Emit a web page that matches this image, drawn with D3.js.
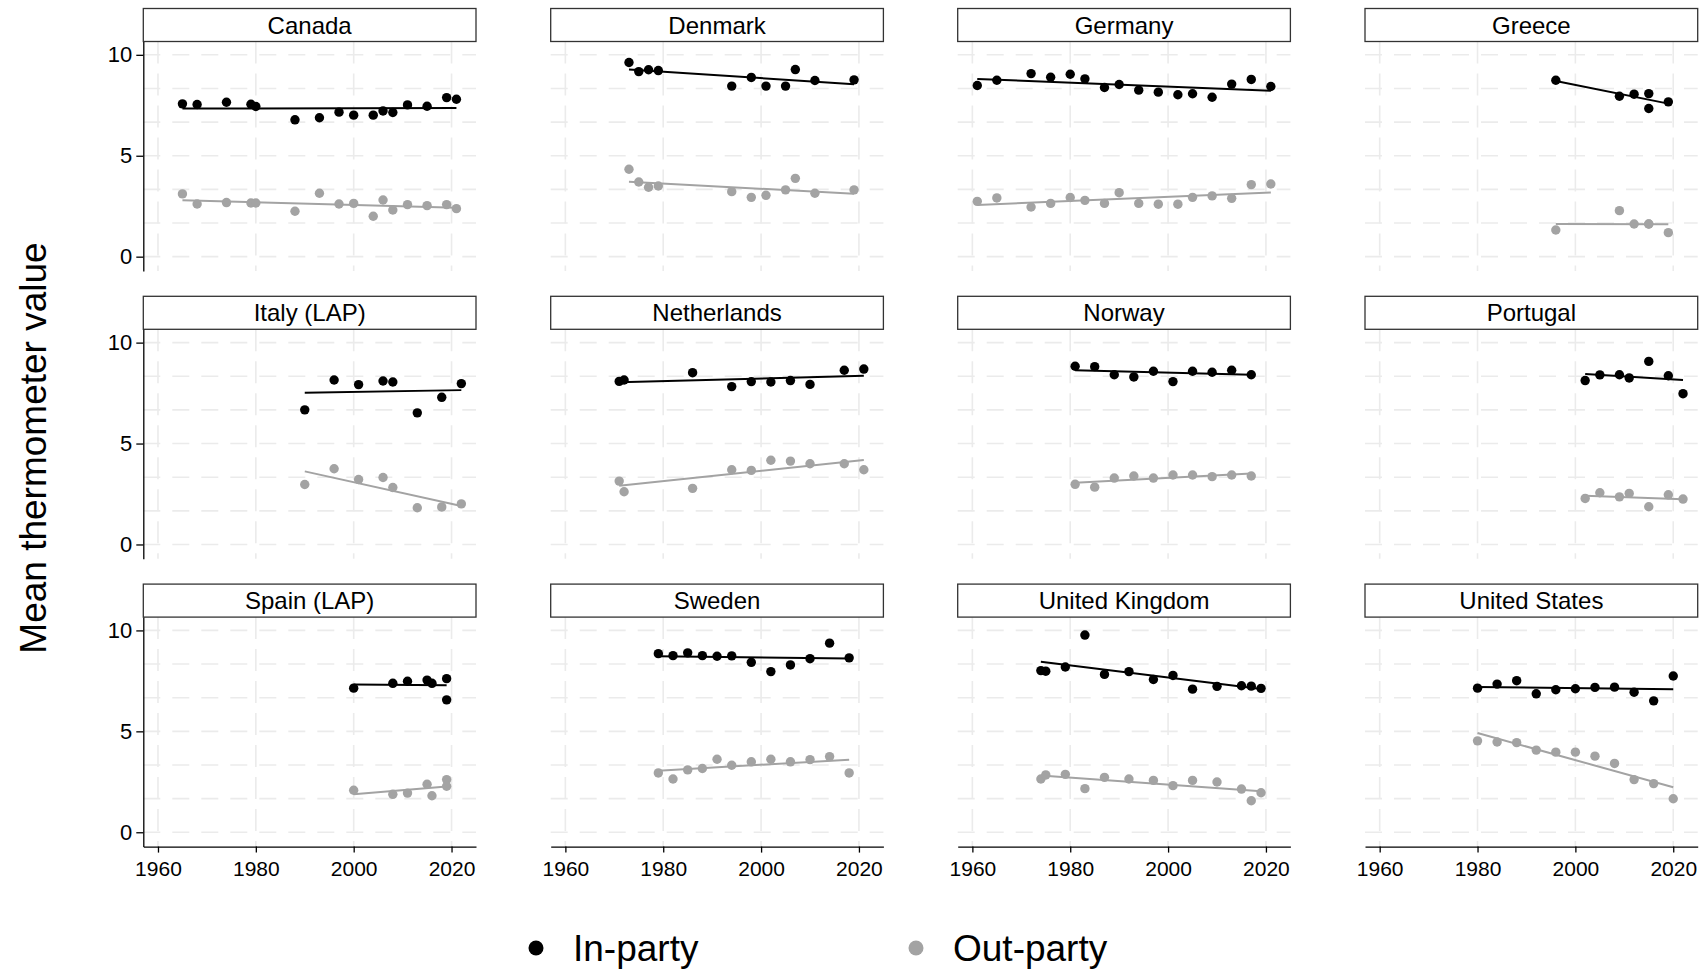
<!DOCTYPE html>
<html>
<head>
<meta charset="utf-8">
<script src="https://cdn.jsdelivr.net/npm/d3@7"></script>
<style>
  body { margin: 0; background: #fff; }
  svg { display: block; }
  text { font-family: "Liberation Sans", Arial, Helvetica, sans-serif; fill: #000; }
</style>
</head>
<body>
<svg id="chart" width="1706" height="970"></svg>
<script>
// Mean feeling-thermometer scores for the in-party and out-party, by election year
const countries = ["Canada", "Denmark", "Germany", "Greece",
                   "Italy (LAP)", "Netherlands", "Norway", "Portugal",
                   "Spain (LAP)", "Sweden", "United Kingdom", "United States"];

const canadaYears = [1965, 1968, 1974, 1979, 1980, 1988, 1993, 1997, 2000, 2004, 2006, 2008, 2011, 2015, 2019, 2021];
const canadaIn    = [7.57, 7.54, 7.65, 7.55, 7.44, 6.78, 6.88, 7.16, 7.01, 7.01, 7.22, 7.14, 7.52, 7.45, 7.88, 7.80];
const canadaOut   = [3.11, 2.61, 2.68, 2.66, 2.66, 2.25, 3.14, 2.61, 2.64, 2.00, 2.81, 2.31, 2.58, 2.53, 2.58, 2.38];

const denmarkYears = [1973, 1975, 1977, 1979, 1994, 1998, 2001, 2005, 2007, 2011, 2019];
const denmarkIn    = [9.62, 9.17, 9.26, 9.22, 8.45, 8.88, 8.45, 8.45, 9.27, 8.73, 8.76];
const denmarkOut   = [4.33, 3.70, 3.44, 3.50, 3.22, 2.94, 3.04, 3.31, 3.88, 3.14, 3.31];

const germanyYears = [1961, 1965, 1972, 1976, 1980, 1983, 1987, 1990, 1994, 1998, 2002, 2005, 2009, 2013, 2017, 2021];
const germanyIn    = [8.48, 8.74, 9.07, 8.89, 9.04, 8.81, 8.38, 8.53, 8.25, 8.15, 8.02, 8.07, 7.90, 8.55, 8.78, 8.43];
const germanyOut   = [2.74, 2.91, 2.46, 2.64, 2.93, 2.79, 2.64, 3.17, 2.64, 2.60, 2.60, 2.94, 3.01, 2.89, 3.57, 3.60];

const greeceYears = [1996, 2009, 2012, 2015, 2015, 2019];
const greeceIn    = [8.74, 7.95, 8.05, 8.08, 7.34, 7.67];
const greeceOut   = [1.32, 2.28, 1.62, 1.62, 1.62, 1.19];

const italyYears = [1990, 1996, 2001, 2006, 2008, 2013, 2018, 2022];
const italyIn    = [6.67, 8.15, 7.92, 8.10, 8.05, 6.52, 7.29, 7.97];
const italyOut   = [2.97, 3.75, 3.22, 3.32, 2.82, 1.82, 1.86, 2.01];

const netherlandsYears = [1971, 1972, 1986, 1994, 1998, 2002, 2006, 2010, 2017, 2021];
const netherlandsIn    = [8.08, 8.15, 8.51, 7.82, 8.07, 8.05, 8.12, 7.93, 8.63, 8.69];
const netherlandsOut   = [3.14, 2.61, 2.78, 3.70, 3.67, 4.17, 4.13, 4.00, 4.00, 3.70];

const norwayYears = [1981, 1985, 1989, 1993, 1997, 2001, 2005, 2009, 2013, 2017];
const norwayIn    = [8.83, 8.81, 8.41, 8.30, 8.58, 8.07, 8.58, 8.53, 8.63, 8.41];
const norwayOut   = [2.98, 2.84, 3.29, 3.39, 3.29, 3.44, 3.44, 3.36, 3.44, 3.39];

const portugalYears = [2002, 2005, 2009, 2011, 2015, 2019, 2022];
const portugalIn    = [8.12, 8.40, 8.41, 8.25, 9.07, 8.36, 7.47];
const portugalOut   = [2.28, 2.56, 2.36, 2.53, 1.87, 2.46, 2.25];

const spainYears = [2000, 2008, 2011, 2015, 2016, 2019, 2019];
const spainIn    = [7.14, 7.38, 7.48, 7.54, 7.38, 7.61, 6.56];
const spainOut   = [2.08, 1.88, 1.94, 2.38, 1.81, 2.61, 2.28];

const swedenYears = [1979, 1982, 1985, 1988, 1991, 1994, 1998, 2002, 2006, 2010, 2014, 2018];
const swedenIn    = [8.85, 8.75, 8.89, 8.75, 8.72, 8.74, 8.42, 7.96, 8.29, 8.60, 9.37, 8.64];
const swedenOut   = [2.94, 2.64, 3.09, 3.16, 3.62, 3.32, 3.49, 3.62, 3.49, 3.60, 3.75, 2.94];

const ukYears = [1974, 1975, 1979, 1983, 1987, 1992, 1997, 2001, 2005, 2010, 2015, 2017, 2019];
const ukIn    = [8.01, 7.98, 8.19, 9.77, 7.82, 7.96, 7.57, 7.77, 7.09, 7.23, 7.26, 7.24, 7.13];
const ukOut   = [2.64, 2.84, 2.87, 2.16, 2.72, 2.64, 2.57, 2.31, 2.57, 2.49, 2.14, 1.56, 1.96];

const usYears = [1980, 1984, 1988, 1992, 1996, 2000, 2004, 2008, 2012, 2016, 2020];
const usIn    = [7.14, 7.34, 7.51, 6.86, 7.06, 7.11, 7.18, 7.19, 6.94, 6.51, 7.74];
const usOut   = [4.53, 4.47, 4.44, 4.07, 3.97, 3.97, 3.77, 3.41, 2.61, 2.41, 1.66];

const xTickValues = [1960, 1980, 2000, 2020];
const yTickValues = [0, 5, 10];
const seriesNames = ["In-party", "Out-party"];

const panels = [
  [canadaYears, canadaIn, canadaOut],
  [denmarkYears, denmarkIn, denmarkOut],
  [germanyYears, germanyIn, germanyOut],
  [greeceYears, greeceIn, greeceOut],
  [italyYears, italyIn, italyOut],
  [netherlandsYears, netherlandsIn, netherlandsOut],
  [norwayYears, norwayIn, norwayOut],
  [portugalYears, portugalIn, portugalOut],
  [spainYears, spainIn, spainOut],
  [swedenYears, swedenIn, swedenOut],
  [ukYears, ukIn, ukOut],
  [usYears, usIn, usOut]
].map((d, i) => ({ name: countries[i], years: d[0], series: [d[1], d[2]] }));

// ---- layout ----
const colLeft = [143.3, 550.7, 957.7, 1365];
const panelW = 332.7;
const rowTop = [8.5, 296.3, 584.1];
const stripH = 33;
const plotH = 229.5;
const colors = ["#000000", "#a3a3a3"];
const gridColor = "#ebebeb";
const gridLevels = d3.range(0, 7).map(k => k * 10 / 6);

const svg = d3.select("#chart");

// ordinary least squares line over a panel's points
function olsFit(xs, ys) {
  const mx = d3.mean(xs), my = d3.mean(ys);
  let sxy = 0, sxx = 0;
  xs.forEach((xv, i) => { sxy += (xv - mx) * (ys[i] - my); sxx += (xv - mx) ** 2; });
  const b = sxy / sxx, a = my - b * mx;
  const [x0, x1] = d3.extent(xs);
  return [[x0, a + b * x0], [x1, a + b * x1]];
}

panels.forEach((p, i) => {
  const c = i % 4, r = Math.floor(i / 4);
  const left = colLeft[c], right = left + panelW;
  const top = rowTop[r] + stripH, bottom = top + plotH;

  const x = d3.scaleLinear().domain([1957, 2025]).range([left, right]);
  const y = d3.scaleLinear().domain([-0.71, 10.66]).range([bottom, top]);

  const g = svg.append("g").attr("class", "panel");

  // dashed grid
  g.selectAll("line.hgrid").data(gridLevels).join("line")
    .attr("class", "hgrid")
    .attr("x1", left).attr("x2", right)
    .attr("y1", d => y(d)).attr("y2", d => y(d))
    .attr("stroke", gridColor).attr("stroke-width", 1.6)
    .attr("stroke-dasharray", "17,12");
  g.selectAll("line.vgrid").data(xTickValues).join("line")
    .attr("class", "vgrid")
    .attr("x1", d => x(d)).attr("x2", d => x(d))
    .attr("y1", top).attr("y2", bottom)
    .attr("stroke", gridColor).attr("stroke-width", 1.6)
    .attr("stroke-dasharray", "22,10");

  // fitted trend per series
  const line = d3.line().x(d => x(d[0])).y(d => y(d[1]));
  p.series.forEach((vals, s) => {
    g.append("path")
      .attr("d", line(olsFit(p.years, vals)))
      .attr("fill", "none")
      .attr("stroke", colors[s])
      .attr("stroke-width", 2);
  });

  // points
  p.series.forEach((vals, s) => {
    g.selectAll(null).data(vals).join("circle")
      .attr("cx", (d, k) => x(p.years[k]))
      .attr("cy", d => y(d))
      .attr("r", 4.7)
      .attr("fill", colors[s]);
  });

  // facet strip
  g.append("rect")
    .attr("x", left).attr("y", rowTop[r])
    .attr("width", panelW).attr("height", stripH)
    .attr("fill", "#fff").attr("stroke", "#333").attr("stroke-width", 1.3);
  g.append("text")
    .attr("x", (left + right) / 2).attr("y", rowTop[r] + stripH / 2 + 8.5)
    .attr("text-anchor", "middle")
    .style("font-size", "24px")
    .text(p.name);

  // axes on the outer panels
  if (c === 0) {
    const ay = g.append("g").attr("transform", `translate(${left},0)`)
      .call(d3.axisLeft(y).tickValues(yTickValues).tickSize(7).tickSizeOuter(0).tickPadding(4));
    ay.select(".domain").attr("stroke", "#000").attr("stroke-width", 1.3);
    ay.selectAll(".tick line").attr("stroke", "#000").attr("stroke-width", 1.3);
    ay.selectAll(".tick text").style("font-size", "22px").attr("font-family", null);
  }
  if (r === 2) {
    const ax = g.append("g").attr("transform", `translate(0,${bottom})`)
      .call(d3.axisBottom(x).tickValues(xTickValues).tickFormat(d3.format("d")).tickSize(6).tickSizeOuter(0).tickPadding(8));
    ax.select(".domain").attr("stroke", "#000").attr("stroke-width", 1.3);
    ax.selectAll(".tick line").attr("stroke", "#000").attr("stroke-width", 1.3);
    ax.selectAll(".tick text").style("font-size", "21px").attr("font-family", null);
  }
});

// y-axis title
svg.append("text")
  .attr("transform", "translate(46,448) rotate(-90)")
  .attr("text-anchor", "middle")
  .style("font-size", "37px")
  .text("Mean thermometer value");

// legend
const legendX = [536, 916];
seriesNames.forEach((name, s) => {
  svg.append("circle").attr("cx", legendX[s]).attr("cy", 948).attr("r", 7.5).attr("fill", colors[s]);
  svg.append("text").attr("x", legendX[s] + 37).attr("y", 961)
    .style("font-size", "37px").text(name);
});
</script>
</body>
</html>
